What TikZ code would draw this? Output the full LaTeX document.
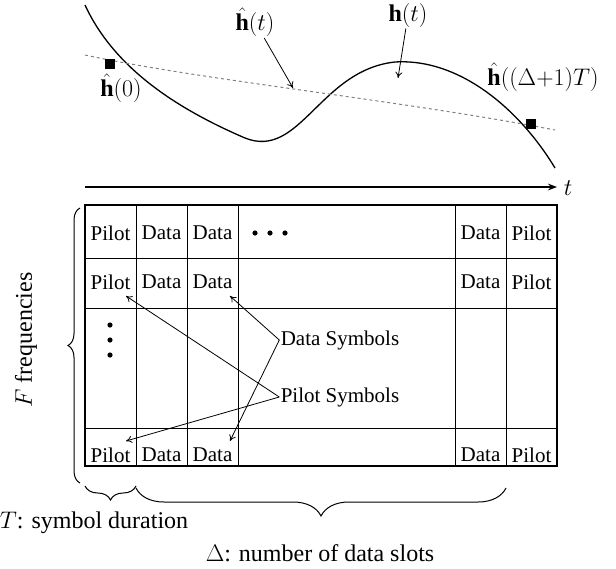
\RequirePackage{fix-cm}
\documentclass[tikz,border=0pt]{standalone}
\usepackage{fontspec}
\setmainfont{Liberation Serif}
\usepackage{amsmath}
\usetikzlibrary{decorations.pathreplacing,arrows.meta}
\begin{document}
\begin{tikzpicture}[x=1pt,y=-1pt,font=\fontsize{21}{24}\selectfont,
  line width=1pt,
  cell/.style={inner sep=0pt},
  lab/.style={inner sep=1pt},
  big/.style={font=\fontsize{24}{28}\selectfont},
  arr/.style={-{To[length=6pt,width=7pt]},line width=0.8pt},
  brc/.style={decorate,line width=1pt}]
\useasboundingbox (0,0) rectangle (616,568);
% curves
\draw[line width=1.3pt] (85,5) .. controls (115,70) and (180,110) .. (245,138)
  .. controls (300,160) and (320,70) .. (395,62)
  .. controls (460,58) and (520,110) .. (555,168);
\draw[dashed,gray,line width=1pt] (85,55) .. controls (200,80) and (400,100) .. (555,130);
\node[fill,minimum size=10pt,inner sep=0pt] (s0) at (110,64) {};
\node[fill,minimum size=10pt,inner sep=0pt] (s1) at (531,124) {};
\node[lab,big] (h0) at (121,88) {$\hat{\mathbf h}(0)$};
\node[lab,big] (ht) at (255,22) {$\hat{\mathbf h}(t)$};
\node[lab,big] (hh) at (408,15) {$\mathbf h(t)$};
\node[lab,big] (hD) at (543,77) {$\hat{\mathbf h}((\Delta{+}1)T)$};
\coordinate (pt) at (293,88);
\coordinate (ph) at (398,78);
\draw[arr] (ht) -- (pt);
\draw[arr] (hh) -- (ph);
% time axis
\coordinate (ta) at (85,187);
\coordinate (tb) at (557,187);
\draw[line width=1.5pt,-{Stealth[length=9pt]}] (ta) -- (tb);
\node[big] (tl) at (568,188) {$t$};
% grid
\draw[line width=2pt] (85,205) rectangle (557,466);
\foreach \x in {136,187,238,455,506} \draw (\x,205) -- (\x,466);
\foreach \y in {258,308,428} \draw (85,\y) -- (557,\y);
\foreach \y/\r in {233/a,282/b,455/c}{
  \node[cell] (p1\r) at (110.5,\y) {Pilot};
  \node[cell] (d1\r) at (161.5,\y) {Data};
  \node[cell] (d2\r) at (212.5,\y) {Data};
  \node[cell] (d3\r) at (480.5,\y) {Data};
  \node[cell] (p2\r) at (531.5,\y) {Pilot};}
\foreach \x in {255,270,285} \fill (\x,233) circle (2.6);
\foreach \y in {325,340,355} \fill (110,\y) circle (2.6);
% labels
\node[lab] (ds) at (340,340) {Data Symbols};
\node[lab] (ps) at (340,397) {Pilot Symbols};
\coordinate (ds1) at (230,296);
\coordinate (ds2) at (230,441);
\coordinate (ps1) at (126,296);
\coordinate (ps2) at (126,441);
\draw[arr] (ds.west) -- (ds1);
\draw[arr] (ds.west) -- (ds2);
\draw[arr] (ps.west) -- (ps1);
\draw[arr] (ps.west) -- (ps2);
% braces
\draw[brc,decoration={brace,amplitude=12pt}] (80,483) -- (80,208);
\node[big,rotate=90] (fl) at (26,340) {$F$ frequencies};
\draw[brc,decoration={brace,amplitude=14pt}] (136,486) -- (85,486);
\draw[brc,decoration={brace,amplitude=28pt}] (506,488) -- (136,488);
\node[lab,big] (tlab) at (94,523) {$T$: symbol duration};
\node[lab,big] (dlab) at (320,553) {$\Delta$: number of data slots};
\end{tikzpicture}
\end{document}
